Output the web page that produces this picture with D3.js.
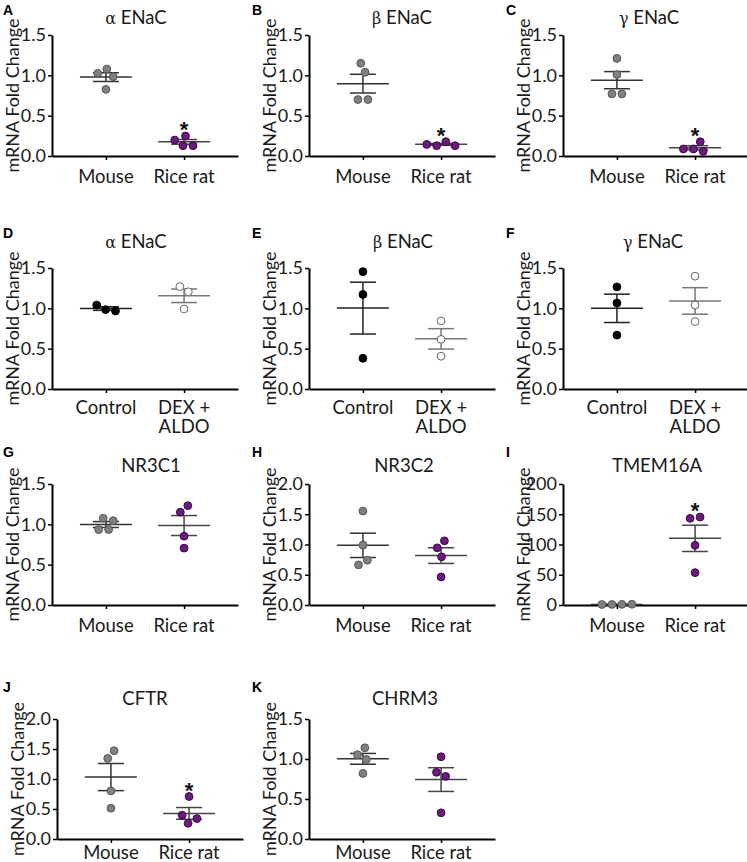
<!DOCTYPE html>
<html><head><meta charset="utf-8">
<script src="https://cdn.jsdelivr.net/npm/d3@7"></script>
<style>
body{margin:0;background:#fff}
svg{display:block;font-family:Lato,'Open Sans',sans-serif}
</style>
</head><body><svg id="fig" width="747" height="862"></svg>
<script>
// ---------------- DATA ----------------
const panelLetters = ["A","B","C","D","E","F","G","H","I","J","K"];
const panelTitles = ["α ENaC","β ENaC","γ ENaC","α ENaC","β ENaC","γ ENaC","NR3C1","NR3C2","TMEM16A","CFTR","CHRM3"];
const speciesGroups = ["Mouse","Rice rat"];
const treatmentGroups = ["Control","DEX + ALDO"];
const yTicks15 = [0,0.5,1.0,1.5];
const yTicks20 = [0,0.5,1.0,1.5,2.0];
const yTicks200 = [0,50,100,150,200];
const yAxisTitle = "mRNA Fold Change";

const alphaENaC_mouse    = [1.025, 0.983, 1.078, 0.826];
const alphaENaC_riceRat  = [0.198, 0.128, 0.128, 0.248];
const betaENaC_mouse     = [1.15, 1.038, 0.70, 0.70];
const betaENaC_riceRat   = [0.144, 0.128, 0.128, 0.177];
const gammaENaC_mouse    = [1.21, 1.01, 0.77, 0.77];
const gammaENaC_riceRat  = [0.087, 0.058, 0.087, 0.177];
const alphaENaC_control  = [1.041, 0.967, 0.984];
const alphaENaC_dexAldo  = [1.27, 1.205, 0.992];
const betaENaC_control   = [1.455, 1.172, 0.381];
const betaENaC_dexAldo   = [0.844, 0.615, 0.406];
const gammaENaC_control  = [1.266, 1.066, 0.668];
const gammaENaC_dexAldo  = [1.398, 1.041, 0.836];
const NR3C1_mouse        = [1.075, 1.045, 0.935, 0.935];
const NR3C1_riceRat      = [1.15, 1.232, 0.853, 0.705];
const NR3C2_mouse        = [1.552, 0.989, 0.663, 0.74];
const NR3C2_riceRat      = [0.945, 1.061, 0.796, 0.464];
const TMEM16A_mouse      = [0.8, 1.2, 0.9, 1.1];
const TMEM16A_riceRat    = [143.2, 145.4, 98.6, 53.5];
const CFTR_mouse         = [1.343, 1.471, 0.802, 0.513];
const CFTR_riceRat       = [0.396, 0.262, 0.34, 0.708];
const CHRM3_mouse        = [1.053, 1.14, 0.995, 0.82];
const CHRM3_riceRat      = [0.833, 0.783, 1.028, 0.327];
const significant = [true,true,true,false,false,false,false,false,true,true,false];

// ---------------- LAYOUT / STYLE ----------------
const svg = d3.select("#fig");
const cols = [52, 309, 563];
const rows = [
  {top:35,  bottom:156, titleY:24,  letterY:15,  labelDy:27},
  {top:268, bottom:389, titleY:248, letterY:238, labelDy:25},
  {top:484, bottom:605, titleY:472, letterY:457, labelDy:27},
  {top:719, bottom:839, titleY:705, letterY:692, labelDy:20}
];
const plotW = 186;
const FS = 18.5;    // general text size
const TFS = 18;     // tick label size
const speciesStyle = [
  {fill:"#808080", stroke:"#555", line:"#333"},
  {fill:"#6b1a7d", stroke:"#3a0845", line:"#444"}
];
const treatStyle = [
  {fill:"#000", stroke:"#000", line:"#222"},
  {fill:"#fff", stroke:"#666", line:"#777"}
];
const f1 = d3.format(".1f"), f0 = d3.format("d");

const panels = [
  {row:0,col:0,cats:speciesGroups,data:[alphaENaC_mouse,alphaENaC_riceRat],ticks:yTicks15,fmt:f1,style:speciesStyle,tdx:84},
  {row:0,col:1,cats:speciesGroups,data:[betaENaC_mouse,betaENaC_riceRat],ticks:yTicks15,fmt:f1,style:speciesStyle,tdx:93},
  {row:0,col:2,cats:speciesGroups,data:[gammaENaC_mouse,gammaENaC_riceRat],ticks:yTicks15,fmt:f1,style:speciesStyle,tdx:86},
  {row:1,col:0,cats:treatmentGroups,data:[alphaENaC_control,alphaENaC_dexAldo],ticks:yTicks15,fmt:f1,style:treatStyle,tdx:84},
  {row:1,col:1,cats:treatmentGroups,data:[betaENaC_control,betaENaC_dexAldo],ticks:yTicks15,fmt:f1,style:treatStyle,tdx:94},
  {row:1,col:2,cats:treatmentGroups,data:[gammaENaC_control,gammaENaC_dexAldo],ticks:yTicks15,fmt:f1,style:treatStyle,tdx:90},
  {row:2,col:0,cats:speciesGroups,data:[NR3C1_mouse,NR3C1_riceRat],ticks:yTicks15,fmt:f1,style:speciesStyle,tdx:99},
  {row:2,col:1,cats:speciesGroups,data:[NR3C2_mouse,NR3C2_riceRat],ticks:yTicks20,fmt:f1,style:speciesStyle,tdx:95},
  {row:2,col:2,cats:speciesGroups,data:[TMEM16A_mouse,TMEM16A_riceRat],ticks:yTicks200,fmt:f0,style:speciesStyle,tdx:94},
  {row:3,col:0,cats:speciesGroups,data:[CFTR_mouse,CFTR_riceRat],ticks:yTicks20,fmt:f1,style:speciesStyle,tdx:88,ax:57},
  {row:3,col:1,cats:speciesGroups,data:[CHRM3_mouse,CHRM3_riceRat],ticks:yTicks15,fmt:f1,style:speciesStyle,tdx:96}
];

function dodge(vals, y, D) {
  const p = vals.map(v => ({v, y:y(v), x:0}));
  for (let it = 0; it < 400; it++) {
    for (let i = 0; i < p.length; i++) for (let j = i + 1; j < p.length; j++) {
      const dy = Math.abs(p[i].y - p[j].y);
      if (dy >= D) continue;
      const req = Math.sqrt(D*D - dy*dy);
      const dx = p[j].x - p[i].x;
      if (Math.abs(dx) < req) {
        const dir = dx < -1e-6 ? -1 : 1;
        const push = (req - Math.abs(dx)) / 2;
        p[i].x -= dir*push; p[j].x += dir*push;
      }
    }
    if (it < 340) p.forEach(q => q.x *= 0.96);
  }
  return p;
}

panels.forEach((pn, k) => {
  const r = rows[pn.row];
  const ax = pn.ax || cols[pn.col];
  const yMax = d3.max(pn.ticks);
  const y = d3.scaleLinear().domain([0, yMax]).range([r.bottom, r.top]);
  const x = d3.scalePoint().domain(pn.cats).range([ax, ax + plotW]).padding(0.69);
  const g = svg.append("g");

  // panel letter
  g.append("text").attr("x", cols[pn.col] === 52 ? 3 : cols[pn.col] - 57).attr("y", r.letterY)
    .attr("font-family","'Liberation Sans',Arial,sans-serif").attr("font-weight","bold")
    .attr("font-size",14).attr("fill","#000").text(panelLetters[k]);

  // title
  const t = panelTitles[k];
  const tt = g.append("text").attr("x", ax + pn.tdx).attr("y", r.titleY)
    .attr("text-anchor","middle").attr("font-size",FS).attr("fill","#1a1a1a");
  if (/^[αβγ]/.test(t)) {
    tt.append("tspan").attr("font-family","'DejaVu Serif','Liberation Serif',serif").attr("font-size",16).text(t[0]);
    tt.append("tspan").text(t.slice(1));
  } else tt.text(t);

  // y axis
  const ya = g.append("g").attr("transform",`translate(${ax},0)`)
    .call(d3.axisLeft(y).tickValues(pn.ticks).tickFormat(pn.fmt).tickSize(4).tickSizeOuter(0).tickPadding(2));
  ya.select(".domain").attr("stroke","#000").attr("stroke-width",2);
  ya.selectAll(".tick line").attr("stroke","#000").attr("stroke-width",1.5);
  ya.selectAll(".tick text").attr("font-size",TFS).attr("font-family","Lato,'Open Sans',sans-serif").attr("fill","#1a1a1a");

  // x axis
  const xa = g.append("g").attr("transform",`translate(0,${r.bottom})`)
    .call(d3.axisBottom(x).tickSize(4).tickSizeOuter(0).tickFormat(""));
  xa.select(".domain").attr("stroke","#000").attr("stroke-width",2);
  xa.selectAll(".tick line").attr("stroke","#000").attr("stroke-width",1.5);
  pn.cats.forEach(c => {
    const lines = c.replace(" + ", " +\n").split("\n");
    const lt = g.append("text").attr("x", x(c)).attr("y", r.bottom + r.labelDy)
      .attr("text-anchor","middle").attr("font-size",FS).attr("fill","#1a1a1a");
    lines.forEach((l, i) => lt.append("tspan").attr("x", x(c)).attr("dy", i ? 19 : 0).text(l));
  });

  // y axis title
  g.append("text").attr("transform",`translate(${ax - 33},${(r.top + r.bottom)/2}) rotate(-90)`)
    .attr("text-anchor","middle").attr("font-size",18).attr("fill","#1a1a1a").text(yAxisTitle);

  // groups
  pn.data.forEach((vals, gi) => {
    const cx = x(pn.cats[gi]);
    const st = pn.style[gi];
    const m = d3.mean(vals);
    const sem = d3.deviation(vals) / Math.sqrt(vals.length);
    const eg = g.append("g").attr("stroke", st.line).attr("stroke-width",1.5);
    eg.append("line").attr("x1", cx - 26).attr("x2", cx + 26).attr("y1", y(m)).attr("y2", y(m));
    eg.append("line").attr("x1", cx).attr("x2", cx).attr("y1", y(m - sem)).attr("y2", y(m + sem));
    [m - sem, m + sem].forEach(v => eg.append("line").attr("x1", cx - 13).attr("x2", cx + 13).attr("y1", y(v)).attr("y2", y(v)));
    const pts = dodge(vals, y, 10);
    g.selectAll(null).data(pts).enter().append("circle")
      .attr("cx", d => cx + d.x).attr("cy", d => d.y).attr("r", 3.9)
      .attr("fill", st.fill).attr("stroke", st.stroke).attr("stroke-width", 1);
    if (gi === 1 && significant[k]) {
      g.append("text").attr("x", cx).attr("y", d3.min(pts, d => d.y) + 1)
        .attr("text-anchor","middle").attr("font-size",22).attr("font-weight","bold")
        .attr("font-family","'Liberation Sans',Arial,sans-serif").attr("fill","#111").text("*");
    }
  });
});
</script></body></html>
